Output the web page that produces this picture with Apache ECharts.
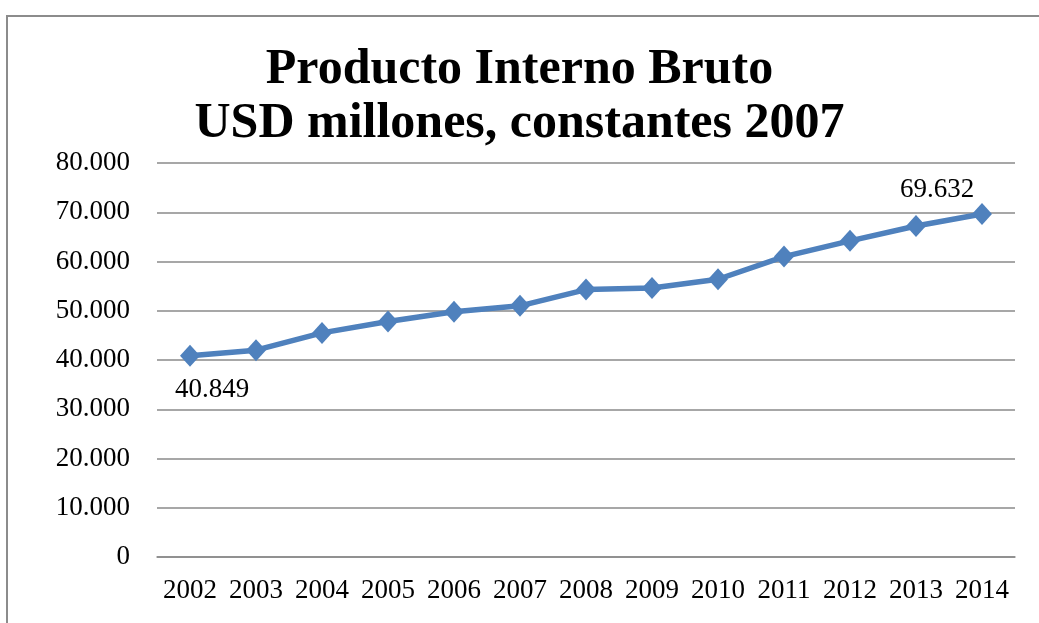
<!DOCTYPE html>
<html>
<head>
<meta charset="utf-8">
<script src="https://cdn.jsdelivr.net/npm/echarts@6/dist/echarts.min.js"></script>
<style>
    html, body { margin: 0; padding: 0; background: #fff; }
    #frame {
        position: absolute; left: 6px; top: 15px; right: 0; bottom: 0;
        border-left: 2px solid #8c8c8c; border-top: 2px solid #8c8c8c;
    }
    #chart { position: absolute; left: 0; top: 0; width: 1039px; height: 623px; }
</style>
</head>
<body>
<div id="frame"></div>
<div id="chart"></div>
<script>
// datos del grafico
var years = ['2002', '2003', '2004', '2005', '2006', '2007', '2008', '2009', '2010', '2011', '2012', '2013', '2014'];
var pib = [40849, 42000, 45500, 47800, 49800, 51000, 54300, 54600, 56400, 61000, 64200, 67200, 69632];
var yTicks = [0, 10000, 20000, 30000, 40000, 50000, 60000, 70000, 80000];

var fontFam = '"Liberation Serif", "DejaVu Serif", serif';

// separador de miles con punto
function miles(v) {
    return String(v).replace(/\B(?=(\d{3})+(?!\d))/g, '.');
}

var seriesData = pib.map(function (v, i) {
    var item = {value: v};
    if (i === 0) {
        item.label = {show: true, position: 'bottom', distance: 10, offset: [22, 0]};
    } else if (i === pib.length - 1) {
        item.label = {show: true, position: 'top', distance: 0, offset: [-45, 0]};
    }
    return item;
});

var myChart = echarts.init(document.getElementById('chart'));

var option = {
    backgroundColor: 'transparent',
    animation: false,
    title: {
        text: 'Producto Interno Bruto\nUSD millones, constantes 2007',
        left: 'center',
        top: 38,
        textStyle: {
            fontFamily: fontFam,
            fontWeight: 'bold',
            fontSize: 50,
            lineHeight: 54,
            color: '#000'
        }
    },
    grid: {
        left: 157,
        right: 24,
        top: 163,
        bottom: 66
    },
    xAxis: {
        type: 'category',
        data: years,
        boundaryGap: true,
        axisLine: {show: true, lineStyle: {color: '#8a8a8a', width: 1.5}},
        axisTick: {show: false},
        axisLabel: {
            margin: 20,
            interval: 0,
            fontFamily: fontFam,
            fontSize: 27,
            lineHeight: 27,
            color: '#000'
        }
    },
    yAxis: {
        type: 'value',
        min: yTicks[0],
        max: yTicks[yTicks.length - 1],
        interval: 10000,
        axisLine: {show: false},
        axisTick: {show: false},
        splitLine: {lineStyle: {color: '#8a8a8a', width: 1.5}},
        axisLabel: {
            margin: 27,
            fontFamily: fontFam,
            fontSize: 27,
            color: '#000',
            formatter: function (v) { return miles(v); }
        }
    },
    series: [
        {
            name: 'PIB',
            type: 'line',
            data: seriesData,
            symbol: 'diamond',
            symbolSize: [20, 22],
            lineStyle: {color: '#4f81bd', width: 5.5},
            itemStyle: {color: '#4f81bd'},
            label: {
                show: false,
                fontFamily: fontFam,
                fontSize: 27,
                lineHeight: 27,
                color: '#000',
                formatter: function (p) { return miles(p.value); }
            }
        }
    ]
};

myChart.setOption(option);
</script>
</body>
</html>
